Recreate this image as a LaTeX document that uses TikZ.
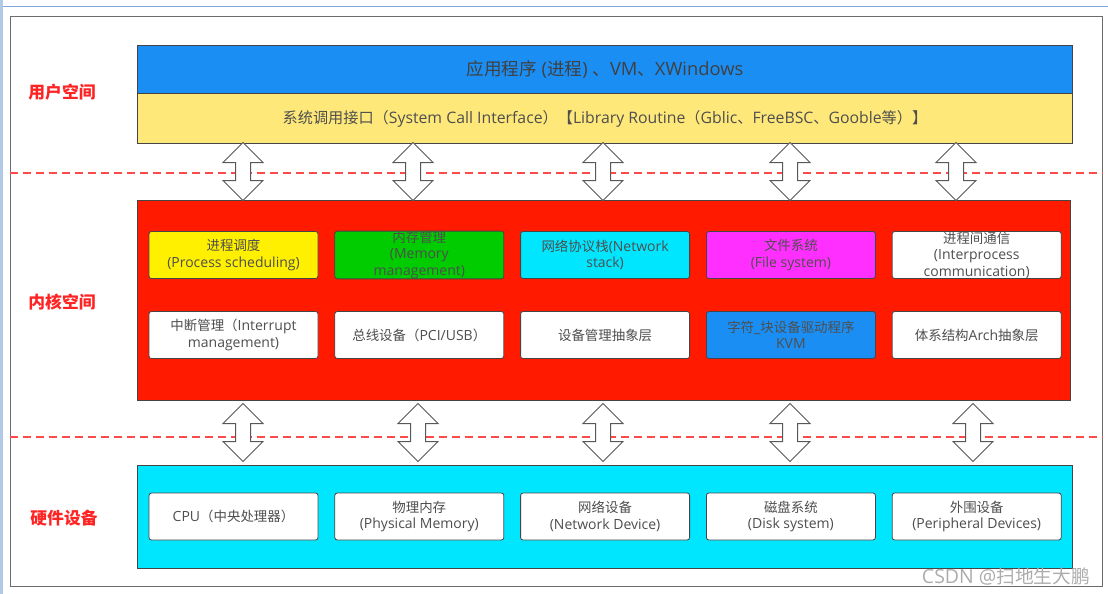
\documentclass[tikz,border=0pt]{standalone}
\usepackage{fontspec}
\setmainfont{Open Sans}
\newfontfamily\zhfam{Noto Sans CJK SC}[Scale=0.96]
\usepackage{tikz}
\usetikzlibrary{positioning,shapes.arrows}

% Chinese characters switch to the CJK family by themselves
\XeTeXinterchartokenstate=1
\newXeTeXintercharclass\zhclass
\newcount\zhcnt
\zhcnt="3000 \loop\ifnum\zhcnt<"3040 \XeTeXcharclass\zhcnt=\zhclass \advance\zhcnt 1 \repeat
\zhcnt="4E00 \loop\ifnum\zhcnt<"A000 \XeTeXcharclass\zhcnt=\zhclass \advance\zhcnt 1 \repeat
\zhcnt="FF00 \loop\ifnum\zhcnt<"FFF0 \XeTeXcharclass\zhcnt=\zhclass \advance\zhcnt 1 \repeat
\XeTeXinterchartoks 0 \zhclass = {\zhfam}
\XeTeXinterchartoks 4095 \zhclass = {\zhfam}
\XeTeXinterchartoks \zhclass 0 = {\rmfamily}
\XeTeXinterchartoks \zhclass 4095 = {\rmfamily}

\definecolor{appblue}{HTML}{1B8EF4}
\definecolor{sysyellow}{HTML}{FFE87A}
\definecolor{kernred}{HTML}{FF1A00}
\definecolor{hwcyan}{HTML}{00E6FF}
\definecolor{schedyellow}{HTML}{FFF000}
\definecolor{memgreen}{HTML}{00CC00}
\definecolor{fsmagenta}{HTML}{FF30FF}
\definecolor{zonered}{HTML}{FF2424}
\definecolor{dashred}{HTML}{FF4A4A}
\definecolor{edgegray}{HTML}{454545}
\definecolor{txtgray}{HTML}{4E4E4E}
\definecolor{shotblue}{HTML}{7FA6D8}

\begin{document}
\begin{tikzpicture}[x=1pt, y=-1pt,
  layer/.style={draw=edgegray, line width=0.9pt, anchor=north west,
                inner sep=0pt, text=txtgray},
  mod/.style={draw=edgegray, line width=0.8pt, rounded corners=2.5pt,
              fill=white, minimum width=169pt, minimum height=47pt,
              inner sep=0pt, align=center, text=txtgray,
              font=\fontsize{14}{16.5}\selectfont},
  bus/.style={double arrow, draw=edgegray!90, line width=1pt, fill=white,
              minimum width=39pt, minimum height=58pt, inner sep=0pt,
              inner ysep=7pt, double arrow head extend=12.5pt, rotate=90},
  zoneline/.style={draw=dashred, line width=1.2pt, dash pattern=on 8pt off 5pt},
  zone/.style={text=zonered, font=\bfseries\fontsize{17.5}{20}\selectfont}
]
\useasboundingbox (0,0) rectangle (1108,594);

% --- screenshot edge ---
\draw[shotblue, line width=1pt] (0,7) -- (1108,7);
\fill[shotblue!60] (0,0) rectangle (3,594);

% --- outer frame ---
\node[layer, draw=gray!85!black, line width=1.2pt, minimum width=1092pt,
      minimum height=570pt] (frame) at (10,16) {};

% --- boundaries ---
\draw[zoneline] (frame.west |- 0,173) -- (frame.east |- 0,173);
\draw[zoneline] (frame.west |- 0,437) -- (frame.east |- 0,437);

% --- user space ---
\node[layer, fill=appblue, minimum width=935pt, minimum height=48pt,
      font=\fontsize{18.3}{20}\selectfont, text=black!75] (app) at (137,45)
  {应用程序 (进程) 、VM、XWindows};
\node[layer, fill=sysyellow, minimum width=935pt, minimum height=50pt,
      font=\fontsize{15.8}{18}\selectfont] (sci) at (137,93)
  {系统调用接口（System Call Interface）【Library Routine（Gblic、FreeBSC、Gooble等）】};

% --- kernel space ---
\node[layer, fill=kernred, minimum width=933pt, minimum height=200pt]
  (kernel) at (137,200) {};

\node[mod, fill=schedyellow] (sched) at (233.5,255) {进程调度\\(Process scheduling)};
\node[mod, fill=memgreen, right=16pt of sched] (mem) {内存管理\\(Memory\\management)};
\node[mod, fill=hwcyan, right=16pt of mem] (net) {网络协议栈(Network\\stack)};
\node[mod, fill=fsmagenta, right=16pt of net] (fs) {文件系统\\(File system)};
\node[mod, right=16pt of fs] (ipc) {进程间通信\\(Interprocess\\communication)};

\node[mod] (irq) at (233.5,335) {中断管理（Interrupt\\management)};
\node[mod, right=16pt of irq] (pci) {总线设备（PCI/USB）};
\node[mod, right=16pt of pci] (devabs) {设备管理抽象层};
\node[mod, fill=appblue, right=16pt of devabs] (drv) {字符\_块设备驱动程序\\KVM};
\node[mod, right=16pt of drv] (arch) {体系结构Arch抽象层};

% --- hardware ---
\node[layer, fill=hwcyan, minimum width=935pt, minimum height=103pt]
  (hw) at (137,465) {};

\node[mod] (cpu) at (233.5,516.5) {CPU（中央处理器）};
\node[mod, right=16pt of cpu] (ram) {物理内存\\(Physical Memory)};
\node[mod, right=16pt of ram] (nic) {网络设备\\(Network Device)};
\node[mod, right=16pt of nic] (disk) {磁盘系统\\(Disk system)};
\node[mod, right=16pt of disk] (periph) {外围设备\\(Peripheral Devices)};

% --- arrows between layers ---
\foreach \x [count=\i] in {243,413,603,790,956}
  \node[bus] (up\i) at (\x,171.5) {};
\foreach \x [count=\i] in {243,418,603,790,973}
  \node[bus] (dn\i) at (\x,432.5) {};

% --- zone labels ---
\node[zone] (user) at (62,92) {用户空间};
\node[zone] (kern) at (62,302) {内核空间};
\node[zone] (dev) at (64,518) {硬件设备};

\node[font=\fontsize{19.5}{21}\selectfont, text=gray!65] (mark) at (1006,577)
  {CSDN @扫地生大鹏};
\end{tikzpicture}
\end{document}
